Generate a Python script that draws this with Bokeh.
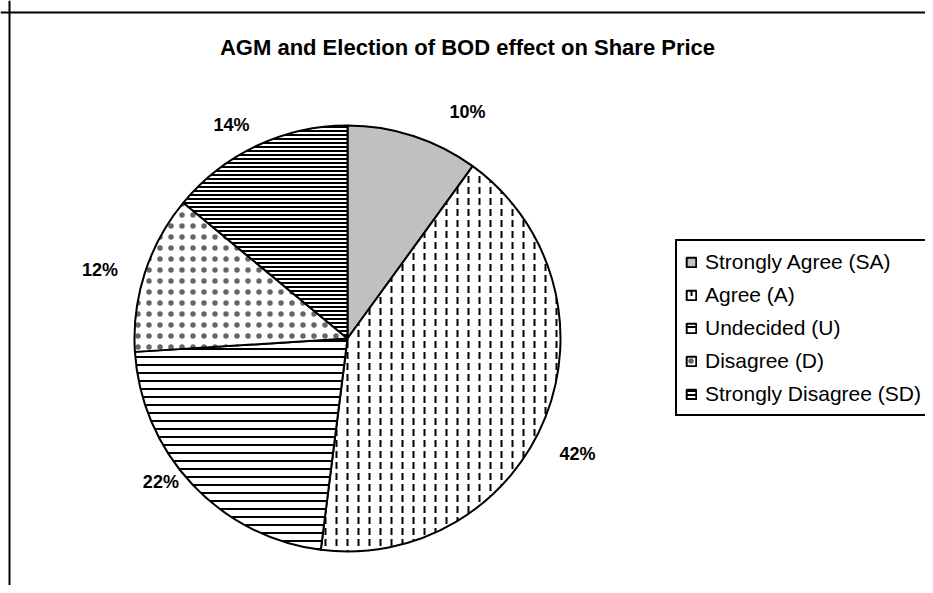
import numpy as np
from bokeh.plotting import figure
from bokeh.models import Range1d, Span, Label, Legend, LegendItem, ColumnDataSource
from bokeh.core.properties import value
from bokeh.embed import file_html
from bokeh.resources import INLINE

# ---- data ----
title = "AGM and Election of BOD effect on Share Price"
categories = ["Strongly Agree (SA)", "Agree (A)", "Undecided (U)", "Disagree (D)", "Strongly Disagree (SD)"]
percents = [10, 42, 22, 12, 14]

# ---- styles ----
fill_colors = ["#c0c0c0", "white", "white", "white", "white"]
hatch_patterns = [" ", "vertical_dash", "horizontal_line", "dot", "horizontal_line"]
hatch_scales = [12, 11, 8, 11, 4]
hatch_weights = [1, 2, 2, 1, 2]
hatch_colors = ["black", "black", "black", "#666666", "black"]
label_dx = [41, -8, 0, -4, -7]     # screen px nudges of percentage labels
label_dy = [17, 21, -32, 11, 18]

W, H = 925, 585
cx, cy, R = 347, 247, 213

p = figure(width=W, height=H, output_backend="svg", toolbar_location=None,
           x_range=Range1d(0, W), y_range=Range1d(0, H),
           min_border_left=0, min_border_right=0, min_border_top=0, min_border_bottom=0)
p.axis.visible = False
p.grid.visible = False
p.outline_line_color = None
p.background_fill_color = "white"
p.border_fill_color = "white"

vals = np.array(percents, dtype=float)
frac = vals / vals.sum()
cum = np.concatenate([[0], np.cumsum(frac)])
start = np.pi / 2 - 2 * np.pi * cum[:-1]
end = np.pi / 2 - 2 * np.pi * cum[1:]
mid = (start + end) / 2

items = []
for i, cat in enumerate(categories):
    r = p.wedge(x=cx, y=cy, radius=R, start_angle=start[i], end_angle=end[i], direction="clock",
                fill_color=fill_colors[i], line_color="black", line_width=2,
                hatch_pattern=hatch_patterns[i], hatch_color=hatch_colors[i],
                hatch_scale=hatch_scales[i], hatch_weight=hatch_weights[i])
    items.append(LegendItem(label=cat, renderers=[r]))

lr = 256
src = ColumnDataSource(dict(
    x=cx + lr * np.cos(mid), y=cy + lr * np.sin(mid),
    t=[f"{v}%" for v in percents], dx=label_dx, dy=label_dy))
p.text(x="x", y="y", text="t", x_offset="dx", y_offset="dy", source=src,
       text_font=value("Liberation Sans"), text_font_style="bold", text_font_size="18px",
       text_align="center", text_baseline="middle", text_color="black")

p.add_layout(Label(x=467, y=538, text=title, text_font="Liberation Sans", text_font_style="bold",
                   text_font_size="22px", text_align="center", text_baseline="middle",
                   text_color="black"))

p.add_layout(Span(location=9, dimension="height", line_color="black", line_width=2))
p.add_layout(Span(location=573, dimension="width", line_color="black", line_width=2))

legend = Legend(items=items, location=(675, 169), orientation="vertical",
                label_text_font="Liberation Sans", label_text_font_size="21px",
                label_text_color="black", label_height=25,
                glyph_width=12, glyph_height=12, label_standoff=8, spacing=8,
                padding=8, margin=0, border_line_color="black", border_line_width=2,
                border_line_alpha=1, background_fill_alpha=1)
p.add_layout(legend)

open("out.html", "w").write(file_html(p, INLINE))
